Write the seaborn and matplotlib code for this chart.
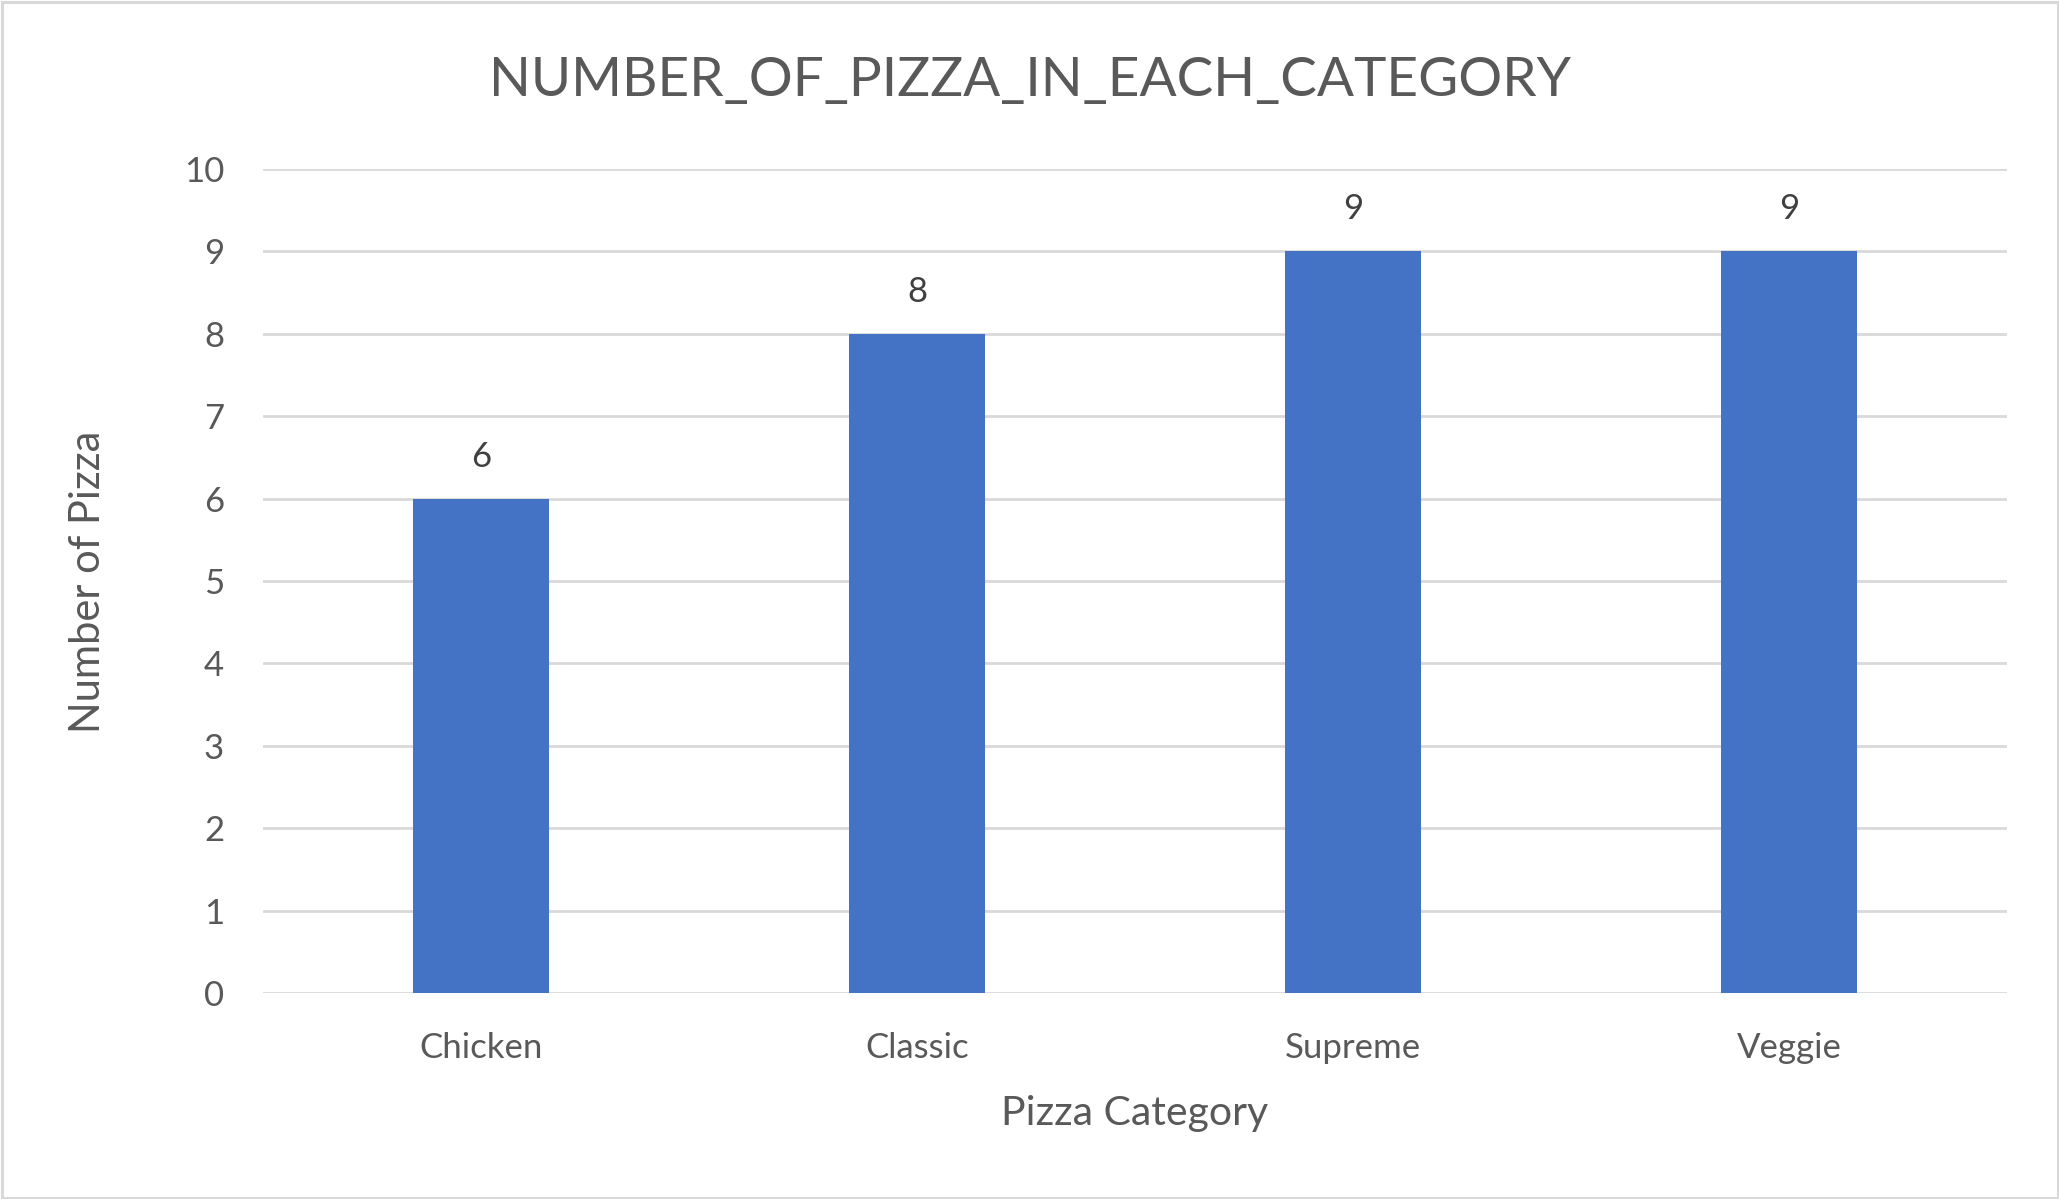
import matplotlib
matplotlib.use("Agg")
import matplotlib.pyplot as plt
import seaborn as sns
import pandas as pd
from matplotlib.patches import Rectangle

categories = ["Chicken", "Classic", "Supreme", "Veggie"]
counts = [6, 8, 9, 9]
y_ticks = [0, 1, 2, 3, 4, 5, 6, 7, 8, 9, 10]
title = "NUMBER_OF_PIZZA_IN_EACH_CATEGORY"
x_label = "Pizza Category"
y_label = "Number of Pizza"

df = pd.DataFrame({"category": categories, "count": counts})

sns.set_theme(style="white")
plt.rcParams["font.family"] = ["Lato", "DejaVu Sans"]

W, H = 2059, 1199
fig = plt.figure(figsize=(W / 100, H / 100), dpi=100)
fig.patch.set_facecolor("white")

ax = fig.add_axes([263 / W, 1 - 993 / H, (2007 - 263) / W, (993 - 169) / H])
sns.barplot(data=df, x="category", y="count", color="#4472C4", width=0.313,
            saturation=1, edgecolor="none", linewidth=0, ax=ax, zorder=3)

ax.set_ylim(0, 10)
ax.set_xlim(-0.5, 3.5)
ax.set_yticks(y_ticks)
ax.yaxis.grid(True, color="#D9D9D9", linewidth=2.0, zorder=0)
ax.xaxis.grid(False)
ax.set_axisbelow(True)
for s in ax.spines.values():
    s.set_visible(False)
ax.tick_params(axis="both", length=0, colors="#595959", labelsize=25)
ax.tick_params(axis="y", pad=28)
ax.tick_params(axis="x", pad=28)
ax.set_xlabel("")
ax.set_ylabel("")

for i, v in enumerate(counts):
    ax.annotate(str(v), xy=(i, v), xytext=(0, 42), textcoords="offset pixels",
                ha="center", va="center", fontsize=25, color="#404040")

fig.text(0.5, 1 - 80 / H, title, ha="center", va="center", fontsize=39.5, color="#595959")
fig.text(88 / W, 1 - 582 / H, y_label, ha="center", va="center", rotation=90,
         fontsize=30, color="#595959")
fig.text(1135 / W, 1 - 1114 / H, x_label, ha="center", va="center",
         fontsize=29.5, color="#595959")

fig.patches.append(Rectangle((1.5 / W, 1.5 / H), 1 - 3 / W, 1 - 3 / H,
                             transform=fig.transFigure, fill=False,
                             edgecolor="#D9D9D9", linewidth=2.2))

fig.savefig("out.png", dpi=100, facecolor="white")
